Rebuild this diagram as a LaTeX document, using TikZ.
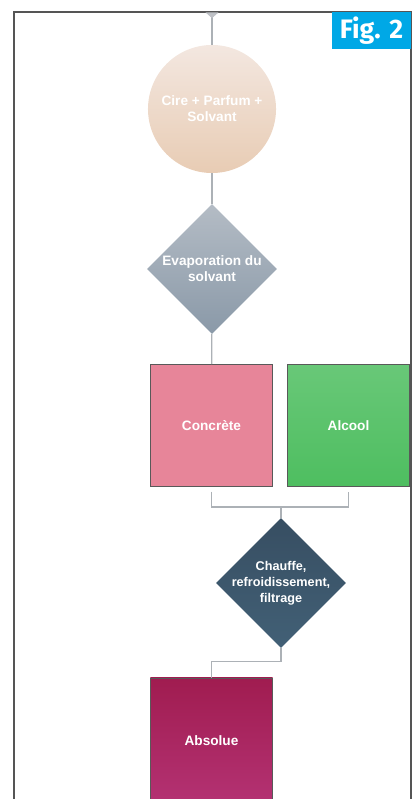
\documentclass[tikz,border=0pt]{standalone}
\usepackage{fontspec}
\setmainfont{Liberation Sans}
\newfontfamily\figfont{Fira Sans}
\usetikzlibrary{arrows.meta, shapes.geometric, positioning, calc}
\definecolor{framegray}{RGB}{85,85,85}
\definecolor{linkgray}{RGB}{172,177,182}
\definecolor{tipgray}{RGB}{190,193,198}
\definecolor{figblue}{RGB}{0,168,230}
\definecolor{peachtop}{RGB}{243,231,224}
\definecolor{peachbot}{RGB}{232,204,180}
\definecolor{evaptop}{RGB}{180,188,197}
\definecolor{evapbot}{RGB}{138,153,168}
\definecolor{concpink}{RGB}{231,133,153}
\definecolor{alcgreen}{RGB}{78,190,96}
\definecolor{heattop}{RGB}{55,78,98}
\definecolor{heatbot}{RGB}{66,96,118}
\definecolor{abstop}{RGB}{160,28,80}
\definecolor{absbot}{RGB}{180,50,115}

\begin{document}
\begin{tikzpicture}[x=0.025cm, y=-0.025cm,
    steptext/.style={text=white, font=\fontsize{9.7}{11.3}\selectfont\bfseries, align=center},
    blob/.style={circle, steptext, minimum size=3.2cm, inner sep=0pt,
                 top color=peachtop, bottom color=peachbot},
    test/.style={diamond, steptext, minimum size=3.25cm, inner sep=0pt, aspect=1},
    stock/.style={rectangle, steptext, draw=black!65, line width=0.6pt,
                  minimum width=3.05cm, minimum height=3.05cm},
    link/.style={draw=linkgray, line width=0.8pt}
  ]
    \useasboundingbox (0,0) rectangle (413,799);

    % frame and figure tag
    \draw[framegray, line width=1.2pt] (14,800) -- (14,12) -- (411,12) -- (411,800);
    \node[fill=figblue, text=white, font=\figfont\fontsize{19}{19}\selectfont\bfseries,
          minimum width=1.98cm, minimum height=0.92cm, inner sep=0pt]
          (fig) at (371.5,30.5) {Fig. 2};

    % steps
    \coordinate (entry) at (212,12.5);
    \node[blob] (mix) at (212,109) {Cire + Parfum +\\Solvant};
    \node[test, top color=evaptop, bottom color=evapbot] (evap) at (212,269) {Evaporation du\\solvant};
    \node[stock, fill=concpink] (concrete) at (211.5,425.5) {Concrète};
    \node[stock, top color=alcgreen!85!white, bottom color=alcgreen] (alcool) at (348.5,425.5) {Alcool};
    \coordinate (join) at (281,507);
    \node[test, top color=heattop, bottom color=heatbot, inner sep=-4pt,
          font=\fontsize{9}{11.3}\selectfont\bfseries] (heat) at (281,583) {Chauffe,\\refroidissement,\\filtrage};
    \node[stock, top color=abstop, bottom color=absbot, minimum height=3.15cm] (absolue) at (211.5,741) {Absolue};

    % links
    \draw[link, {Triangle[reversed, width=9pt, length=4pt, color=tipgray]}-] (entry) -- (mix);
    \draw[link] (mix) -- (evap);
    \draw[link] (evap) -- (concrete);
    \draw[link] ([yshift=-0.12cm]concrete.south) |- (join) -| ([yshift=-0.12cm]alcool.south);
    \draw[link] (join) -- (heat.north);
    \draw[link] (heat.south) -- ++(0,13) -| (absolue.north);
  \end{tikzpicture}
\end{document}
